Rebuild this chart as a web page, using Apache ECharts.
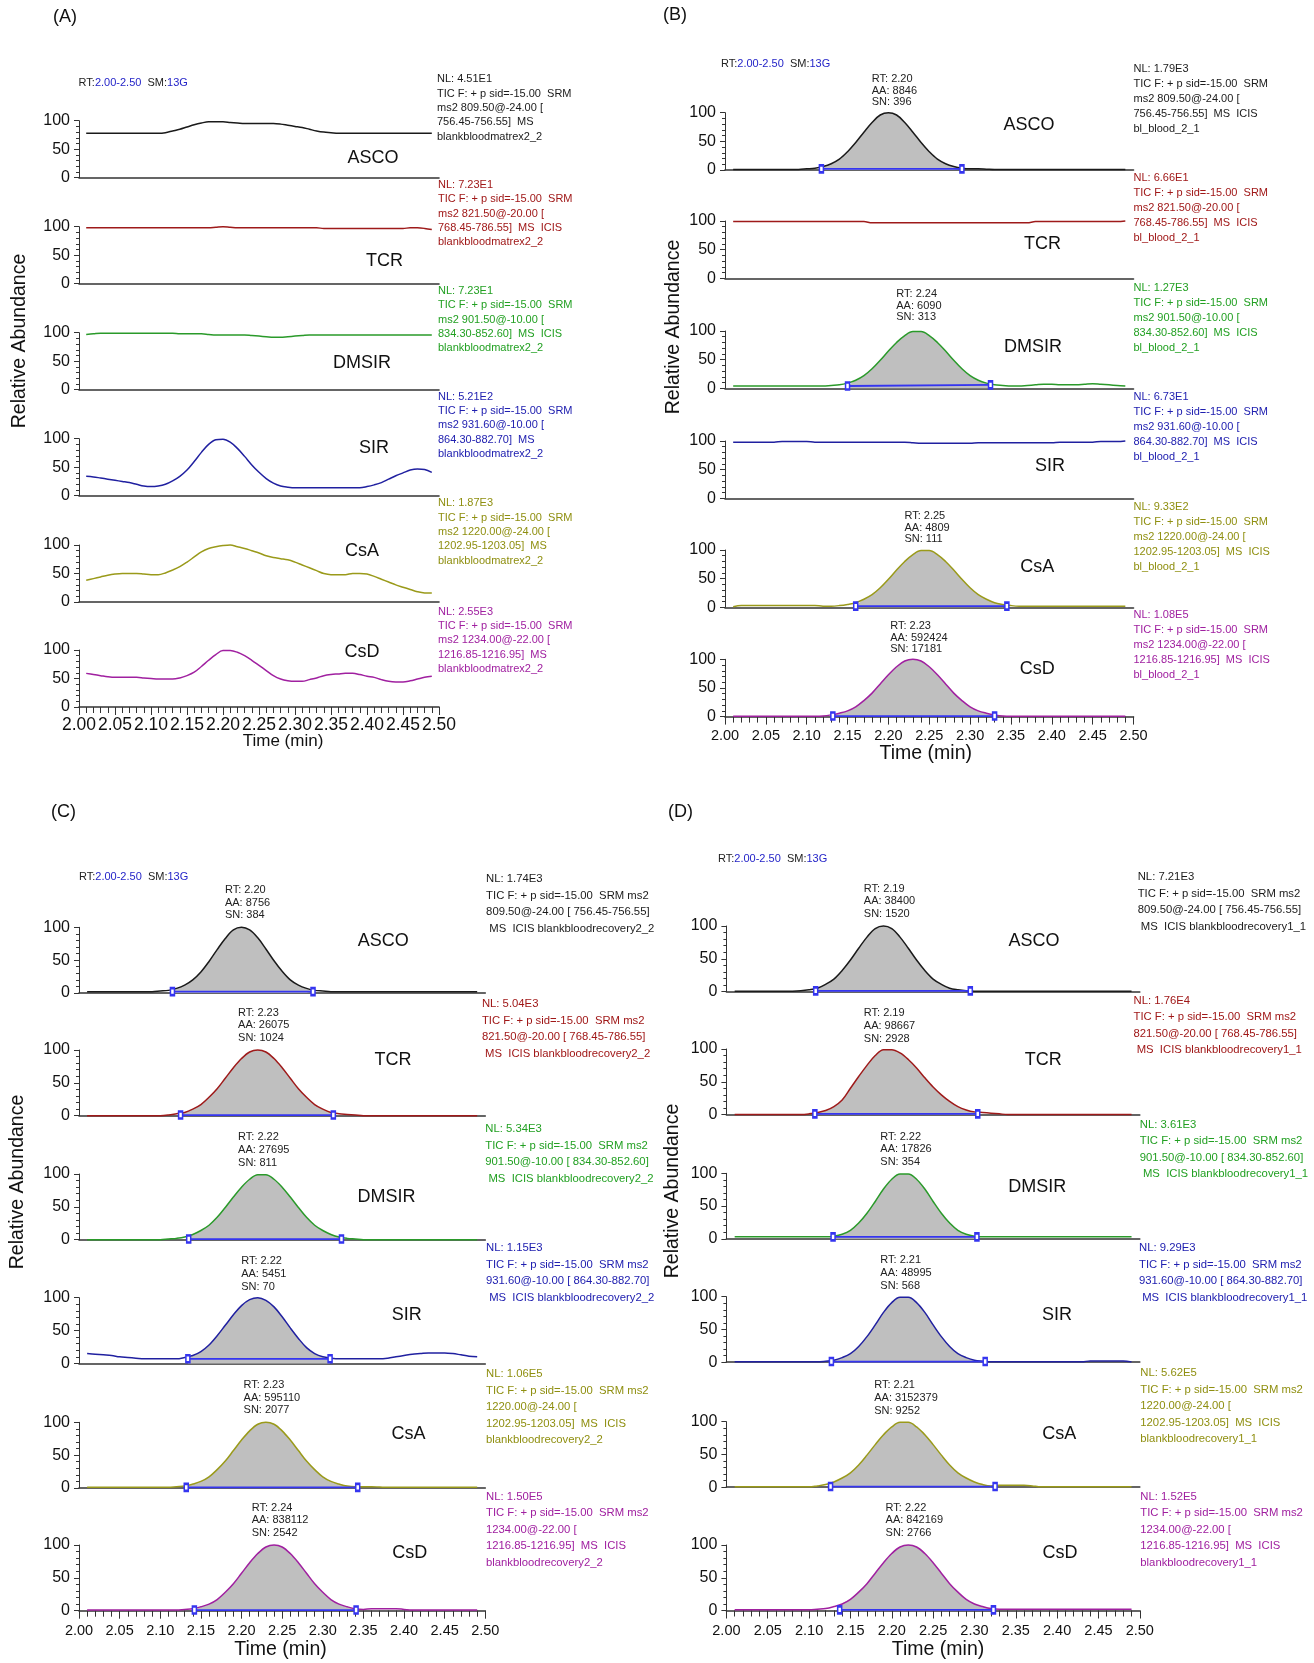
<!DOCTYPE html>
<html><head><meta charset="utf-8">
<script src="https://cdn.jsdelivr.net/npm/echarts@6/dist/echarts.min.js"></script>
<style>html,body{margin:0;padding:0;background:#fff}#c{width:1314px;height:1663px}</style>
</head><body><div id="c"></div>
<script>
// ---------------- DATA ----------------
const COMPOUNDS = ['ASCO','TCR','DMSIR','SIR','CsA','CsD'];
const T = [2.01,2.02,2.03,2.04,2.05,2.06,2.07,2.08,2.09,2.10,
 2.11,2.12,2.13,2.14,2.15,2.16,2.17,2.18,2.19,2.20,
 2.21,2.22,2.23,2.24,2.25,2.26,2.27,2.28,2.29,2.30,
 2.31,2.32,2.33,2.34,2.35,2.36,2.37,2.38,2.39,2.40,
 2.41,2.42,2.43,2.44,2.45,2.46,2.47,2.48,2.49];

// Panel A (blank blood matrix)
const A_ASCO = [78,78,78,78,78,78,78,78,78,78, 78,79,82,85,89,93,96,98,98,98, 97,96,95,95,95,95,95,94,92,90, 88,85,82,80,79,78,78,78,78,78, 78,78,78,78,78,78,78,78,78];
const A_TCR = [98,98,98,98,98,98,98,98,98,98, 98,98,98,98,98,98,98,98,99,100, 99,98,98,98,98,98,98,98,98,98, 98,98,98,97,97,97,97,97,97,97, 97,97,97,97,97,98,98,97,95];
const A_DMSIR = [97,98,99,99,99,99,99,99,99,99, 99,99,99,98,98,98,98,97,96,96, 96,96,96,95,94,93,92,92,93,94, 95,96,96,96,96,96,96,96,96,96, 96,96,96,96,96,96,96,96,96];
const A_SIR = [34,33,31,29,27,25,23,20,17,16, 17,20,26,34,45,60,76,90,98,99, 94,83,69,54,41,30,22,17,15,14, 14,14,14,14,14,14,14,14,14,16, 19,23,29,35,40,45,47,46,41];
const A_CsA = [38,41,44,47,49,50,50,50,49,48, 48,51,56,62,70,79,88,94,97,99, 100,97,94,90,86,81,78,76,74,70, 65,60,55,50,48,48,48,50,50,49, 45,40,35,30,26,22,18,16,16];
const A_CsD = [59,57,55,53,52,52,52,52,51,50, 49,49,49,51,55,61,71,82,92,99, 99,96,90,82,73,64,55,49,46,45, 45,48,51,55,57,58,59,59,57,54, 52,48,45,44,44,46,49,52,54];

// Panel B (bl_blood_2_1)
const B_ASCO = [1,1,1,1,1,1,1,1,1,2, 3,6,11,19,32,48,66,83,96,100, 96,83,66,48,32,19,11,6,3,2, 2,1.5,1,1,1,1,1,1,1,1, 1,1,1,1,1,1,1,1,1];
const B_TCR = [99,99,99,99,99,99,99,99,99,99, 99,99,99,99,99,99,99,97,97,97, 97,97,97,97,97,97,97,97,97,97, 97,97,97,97,97,97,97,99,99,99, 99,99,99,99,99,99,99,99,100];
const B_DMSIR = [4,4,4,4,4,4,4,4,4,4, 4,4,5,6,9,14,22,34,49,65, 80,92,99,99,92,80,65,49,34,22, 14,9,6,5,4,4,5,6,7,7, 6,6,6,7,8,7,6,5,4];
const B_SIR = [98,98,98,98,98,98,99,99,99,99, 98,98,98,98,98,98,98,98,98,98, 98,98,97,96,96,96,96,96,96,96, 97,97,97,97,97,97,97,97,97,97, 98,98,98,98,98,99,99,99,100];
const B_CsA = [1,3,3,3,3,3,3,3,3,3, 3,2,2,3,5,8,14,22,34,49, 65,80,92,99,99,92,80,65,49,34, 22,14,8,5,3,2,2,2,2,2, 2,2,2,2,2,2,2,2,2];
const B_CsD = [0.5,0.5,0.5,0.5,0.5,0.5,0.5,0.5,0.5,0.5, 0.5,1,3,6,10,17,28,41,57,73, 87,97,100,97,87,73,57,41,28,17, 10,6,3,1,0.5,0.5,0.5,0.5,0.5,0.5, 0.5,0.5,0.5,0.5,0.5,0.5,0.5,0.5,0.5];

// Panel C (blankbloodrecovery2_2)
const C_ASCO = [2,2,2,2,2,2,2,2,2,3, 4,7,12,20,32,48,66,83,96,100, 96,84,67,49,33,20,12,7,4,3, 2,2,2,2,2,2,2,2,2,2, 2,2,2,2,2,2,2,2,2];
const C_TCR = [0,0,0,0,0,0,0,0,0,0, 1,3,5,10,17,28,41,57,73,87, 97,100,97,87,73,57,41,28,17,10, 5,3,2,1,0,0,0,0,0,0, 0,0,0,0,0,0,0,0,0];
const C_DMSIR = [0,0,0,0,0,0,0,0,0,0, 1,2,4,8,14,22,34,49,65,80, 92,99,99,92,80,65,49,34,22,14, 8,4,2,1,0,0,0,0,0,0, 0,0,0,0,0,0,0,0,0];
const C_SIR = [15,14,13,12,10,9,8,7,7,7, 7,7,9,12,18,28,42,58,74,88, 97,100,96,86,71,54,38,24,15,10, 8,7,7,7,7,7,7,8,10,12, 14,15,16,16,16,15,13,11,10];
const C_CsA = [1,1,1,1,1,1,1,1,1,1, 1,2,3,6,10,17,28,41,57,73, 87,97,100,97,87,73,57,41,28,17, 10,6,3,2,2,2,1.5,1,1,1, 1,1,1,1,1,1,1,1,1];
const C_CsD = [1,1,1,1,1,1,1,1,1,1, 1,1,2,3,6,10,17,28,41,57, 73,87,97,100,97,87,73,57,41,28, 17,10,6,3,2,3,3,3,3,2, 1,1,1,1,1,1,1,1,1];

// Panel D (blankbloodrecovery1_1)
const D_ASCO = [0.5,0.5,0.5,0.5,0.5,0.5,0.5,0.5,1,2.5, 5,11,19,32,48,66,83,96,100,96, 83,66,48,32,19,11,5,2.5,1,0.5, 0.5,0.5,0.5,0.5,0.5,0.5,0.5,0.5,0.5,0.5, 0.5,0.5,0.5,0.5,0.5,0.5,0.5,0.5,0.5];
const D_TCR = [0,0,0,0,0,0,0,0,0,1, 3,6,12,22,40,58,75,90,99,99, 94,84,71,56,42,30,20,12,7,4, 3,2,1,0,0,0,0,0,0,0, 0,0,0,0,0,0,0,0,0];
const D_DMSIR = [3,3,3,3,3,3,3,3,3,3, 3,3,4,7,13,24,39,57,76,91, 99,99,91,76,57,39,24,13,7,4, 3,3,3,3,3,3,3,3,3,3, 3,3,3,3,3,3,3,3,3];
const D_SIR = [0.5,0.5,0.5,0.5,0.5,0.5,0.5,0.5,0.5,0.5, 0.5,1.5,3,7,13,24,39,57,76,91, 99,99,91,76,57,39,24,13,7,3, 1.5,0.5,0.5,0.5,0.5,0.5,0.5,0.5,0.5,0.5, 0.5,0.5,0.5,2,2,2,2,2,0.5];
const D_CsA = [0.5,0.5,0.5,0.5,0.5,0.5,0.5,0.5,0.5,0.5, 2,4,8,14,22,34,49,65,80,92, 99,99,92,80,65,49,34,22,14,8, 4,2,3,3,3,3,2,0.5,0.5,0.5, 0.5,0.5,0.5,0.5,0.5,0.5,0.5,0.5,0.5];
const D_CsD = [1,1,1,1,1,1,1,1,1,1, 2,3,6,10,17,28,41,57,73,87, 97,100,97,87,73,57,41,28,17,10, 6,3,2,2,2,2,2,2,2,2, 2,2,2,2,2,2,2,2,2];

// Integration windows: [tStart, baseStart, tEnd, baseEnd]
const INT_B = [[2.118,2,2.290,2], null, [2.150,4,2.325,6], null, [2.160,2,2.345,2], [2.132,1,2.330,1]];
const INT_C = [[2.115,2,2.288,2], [2.125,1,2.313,1], [2.135,1,2.323,1], [2.134,7,2.309,7], [2.132,1,2.343,1], [2.142,1,2.341,1]];
const INT_D = [[2.108,1,2.295,1], [2.107,1,2.304,1], [2.129,3,2.303,3], [2.127,1,2.313,1], [2.126,1,2.325,1], [2.137,1,2.323,1]];

// Peak annotations
const ANN_B = [['RT: 2.20','AA: 8846','SN: 396'], null, ['RT: 2.24','AA: 6090','SN: 313'], null, ['RT: 2.25','AA: 4809','SN: 111'], ['RT: 2.23','AA: 592424','SN: 17181']];
const ANN_C = [['RT: 2.20','AA: 8756','SN: 384'], ['RT: 2.23','AA: 26075','SN: 1024'], ['RT: 2.22','AA: 27695','SN: 811'], ['RT: 2.22','AA: 5451','SN: 70'], ['RT: 2.23','AA: 595110','SN: 2077'], ['RT: 2.24','AA: 838112','SN: 2542']];
const ANN_D = [['RT: 2.19','AA: 38400','SN: 1520'], ['RT: 2.19','AA: 98667','SN: 2928'], ['RT: 2.22','AA: 17826','SN: 354'], ['RT: 2.21','AA: 48995','SN: 568'], ['RT: 2.21','AA: 3152379','SN: 9252'], ['RT: 2.22','AA: 842169','SN: 2766']];

// Scan header texts
const TIC = 'TIC F: + p sid=-15.00  SRM';
const NL_A = [
 ['NL: 4.51E1', TIC, 'ms2 809.50@-24.00 [', '756.45-756.55]  MS', 'blankbloodmatrex2_2'],
 ['NL: 7.23E1', TIC, 'ms2 821.50@-20.00 [', '768.45-786.55]  MS  ICIS', 'blankbloodmatrex2_2'],
 ['NL: 7.23E1', TIC, 'ms2 901.50@-10.00 [', '834.30-852.60]  MS  ICIS', 'blankbloodmatrex2_2'],
 ['NL: 5.21E2', TIC, 'ms2 931.60@-10.00 [', '864.30-882.70]  MS', 'blankbloodmatrex2_2'],
 ['NL: 1.87E3', TIC, 'ms2 1220.00@-24.00 [', '1202.95-1203.05]  MS', 'blankbloodmatrex2_2'],
 ['NL: 2.55E3', TIC, 'ms2 1234.00@-22.00 [', '1216.85-1216.95]  MS', 'blankbloodmatrex2_2']];
const NL_B = [
 ['NL: 1.79E3', TIC, 'ms2 809.50@-24.00 [', '756.45-756.55]  MS  ICIS', 'bl_blood_2_1'],
 ['NL: 6.66E1', TIC, 'ms2 821.50@-20.00 [', '768.45-786.55]  MS  ICIS', 'bl_blood_2_1'],
 ['NL: 1.27E3', TIC, 'ms2 901.50@-10.00 [', '834.30-852.60]  MS  ICIS', 'bl_blood_2_1'],
 ['NL: 6.73E1', TIC, 'ms2 931.60@-10.00 [', '864.30-882.70]  MS  ICIS', 'bl_blood_2_1'],
 ['NL: 9.33E2', TIC, 'ms2 1220.00@-24.00 [', '1202.95-1203.05]  MS  ICIS', 'bl_blood_2_1'],
 ['NL: 1.08E5', TIC, 'ms2 1234.00@-22.00 [', '1216.85-1216.95]  MS  ICIS', 'bl_blood_2_1']];
const TIC2 = 'TIC F: + p sid=-15.00  SRM ms2';
const NL_C = [
 ['NL: 1.74E3', TIC2, '809.50@-24.00 [ 756.45-756.55]', ' MS  ICIS blankbloodrecovery2_2'],
 ['NL: 5.04E3', TIC2, '821.50@-20.00 [ 768.45-786.55]', ' MS  ICIS blankbloodrecovery2_2'],
 ['NL: 5.34E3', TIC2, '901.50@-10.00 [ 834.30-852.60]', ' MS  ICIS blankbloodrecovery2_2'],
 ['NL: 1.15E3', TIC2, '931.60@-10.00 [ 864.30-882.70]', ' MS  ICIS blankbloodrecovery2_2'],
 ['NL: 1.06E5', TIC2, '1220.00@-24.00 [', '1202.95-1203.05]  MS  ICIS', 'blankbloodrecovery2_2'],
 ['NL: 1.50E5', TIC2, '1234.00@-22.00 [', '1216.85-1216.95]  MS  ICIS', 'blankbloodrecovery2_2']];
const NL_D = [
 ['NL: 7.21E3', TIC2, '809.50@-24.00 [ 756.45-756.55]', ' MS  ICIS blankbloodrecovery1_1'],
 ['NL: 1.76E4', TIC2, '821.50@-20.00 [ 768.45-786.55]', ' MS  ICIS blankbloodrecovery1_1'],
 ['NL: 3.61E3', TIC2, '901.50@-10.00 [ 834.30-852.60]', ' MS  ICIS blankbloodrecovery1_1'],
 ['NL: 9.29E3', TIC2, '931.60@-10.00 [ 864.30-882.70]', ' MS  ICIS blankbloodrecovery1_1'],
 ['NL: 5.62E5', TIC2, '1220.00@-24.00 [', '1202.95-1203.05]  MS  ICIS', 'blankbloodrecovery1_1'],
 ['NL: 1.52E5', TIC2, '1234.00@-22.00 [', '1216.85-1216.95]  MS  ICIS', 'blankbloodrecovery1_1']];

// ---------------- STYLE / LAYOUT ----------------
const F = "'Liberation Sans', Arial, sans-serif";
const LINE_COLORS = ['#1a1a1a','#9e1a1a','#2a9a2a','#2020a0','#9a9a1a','#a020a0'];
const TEXT_COLORS = ['#1a1a1a','#a01818','#22a022','#2020b0','#8f8f10','#a020a0'];

const panels = [
 {id:'(A)', lab:[53,17], rt:[78.6,83], left:79, width:360, h:57, tops:[120.7,226.7,332.7,438.7,545,650],
  tick:17.5, tickMargin:9, ra:[20,341], time:[283,741,17],
  names:[[373,158],[384.5,261],[362,363],[374,448],[362,551],[362,652]],
  nlx:[437,438,438,438,438,438], nly:[79.3,185,291,396.7,503.3,611.7], lh:14.3, nfs:11,
  traces:[A_ASCO,A_TCR,A_DMSIR,A_SIR,A_CsA,A_CsD], ints:[null,null,null,null,null,null], anns:[null,null,null,null,null,null], nls:NL_A, annLH:11.3, annDist:[4,4,4,4,4,4]},
 {id:'(B)', lab:[663,15], rt:[721,64], left:725, width:408.5, h:57.3, tops:[112.7,221,331,441,550,659.3],
  tick:14.5, tickMargin:12, ra:[673.7,327], time:[925.8,754,19.5],
  names:[[1028.9,125],[1042.4,244],[1033.1,346.7],[1049.9,466],[1037.3,567],[1037.3,669]],
  nlx:[1133.5,1133.5,1133.5,1133.5,1133.5,1133.5], nly:[69.3,178.3,287.7,396.7,506.7,615.3], lh:15, nfs:11,
  traces:[B_ASCO,B_TCR,B_DMSIR,B_SIR,B_CsA,B_CsD], ints:INT_B, anns:ANN_B, nls:NL_B, annLH:11.5, annDist:[4,4,8,4,5,4]},
 {id:'(C)', lab:[51,812], rt:[79,877], left:79, width:406.3, h:65.7, tops:[927.3,1050,1174,1297.7,1422.3,1545],
  tick:14.5, tickMargin:13, ra:[18,1182], time:[280.5,1650,19.5],
  names:[[383.2,941],[392.9,1060],[386.6,1196.7],[406.7,1315],[408.4,1434],[409.7,1552.7]],
  nlx:[486.1,481.9,485.3,486,486,486], nly:[879,1004.3,1129,1248,1374,1496.7], lh:16.5, nfs:11.3,
  traces:[C_ASCO,C_TCR,C_DMSIR,C_SIR,C_CsA,C_CsD], ints:INT_C, anns:ANN_C, nls:NL_C, annLH:12.7, annDist:[5,5,5,4,5,5]},
 {id:'(D)', lab:[668,812], rt:[718,859], left:726.4, width:413.4, h:65.5, tops:[926,1049,1173.3,1296.7,1421.7,1545],
  tick:14.5, tickMargin:13, ra:[672.6,1191], time:[938,1650,19.5],
  names:[[1034,941],[1043.2,1060],[1037.3,1186.7],[1057,1315],[1059.2,1434],[1060,1552.7]],
  nlx:[1137.7,1133.5,1139.8,1139,1140.3,1140.3], nly:[877,1000.7,1124.7,1248,1373.3,1496.7], lh:16.5, nfs:11.3,
  traces:[D_ASCO,D_TCR,D_DMSIR,D_SIR,D_CsA,D_CsD], ints:INT_D, anns:ANN_D, nls:NL_D, annLH:12.7, annDist:[5,4,5,5,5,5]}
];

// ---------------- BUILD ----------------
const grids=[], xAxes=[], yAxes=[], series=[], graphics=[];
const mctx = document.createElement('canvas').getContext('2d');
function textW(s, size) { mctx.font = size + 'px ' + F; return mctx.measureText(s).width; }
function addText(x, y, text, o) {
  graphics.push({type:'text', x:x, y:y, rotation:o.rot||0, z:100, silent:true,
    style:{text:text, fill:o.color||'#111', fontSize:o.size, fontFamily:F, lineHeight:o.lh,
      textAlign:o.align||'left', align:o.align||'left',
      textVerticalAlign:o.va||'middle', verticalAlign:o.va||'middle', rich:o.rich}});
}

panels.forEach(p => {
  addText(p.lab[0], p.lab[1], p.id, {size:18, color:'#111'});
  addText(p.rt[0], p.rt[1], '{a|RT:}{b|2.00-2.50}{a|  SM:}{b|13G}', {size:11,
    rich:{a:{fill:'#222', fontSize:11, fontFamily:F}, b:{fill:'#2424c8', fontSize:11, fontFamily:F}}});
  addText(p.ra[0], p.ra[1], 'Relative Abundance', {size:19.5, align:'center', rot:Math.PI/2, color:'#111'});
  addText(p.time[0], p.time[1], 'Time (min)', {size:p.time[2], align:'center', color:'#111'});

  COMPOUNDS.forEach((cmp, ri) => {
    const g = grids.length;
    const bottom = ri === 5;
    grids.push({left:p.left, top:p.tops[ri], width:p.width, height:p.h});
    xAxes.push({gridIndex:g, type:'value', min:2, max:2.5, interval:0.05,
      axisLine:{show:true, onZero:false, lineStyle:{color:'#333', width:1.6}},
      axisTick:{show:bottom, length:8, lineStyle:{color:'#333', width:1}},
      minorTick:{show:bottom, splitNumber:5, length:6, lineStyle:{color:'#333', width:1}},
      axisLabel:{show:bottom, fontSize:p.tick, fontFamily:F, color:'#111', margin:p.tickMargin,
        showMinLabel:true, showMaxLabel:true, hideOverlap:false,
        formatter:v => v.toFixed(2)},
      splitLine:{show:false}, minorSplitLine:{show:false}});
    yAxes.push({gridIndex:g, type:'value', min:0, max:100, interval:50,
      axisLine:{show:true, lineStyle:{color:'#333', width:1}},
      axisTick:{show:true, length:5, lineStyle:{color:'#333'}},
      minorTick:{show:true, splitNumber:5, length:3, lineStyle:{color:'#333'}},
      axisLabel:{fontSize:16, fontFamily:F, color:'#111', margin:9, showMinLabel:true, showMaxLabel:true},
      splitLine:{show:false}, minorSplitLine:{show:false}});

    const vals = p.traces[ri];
    const pts = T.map((t, i) => [t, vals[i]]);
    const iv = p.ints[ri];
    if (iv) {
      const fill = [[iv[0], iv[1]]].concat(pts.filter(d => d[0] > iv[0] && d[0] < iv[2])).concat([[iv[2], iv[3]]]);
      let im = 0; vals.forEach((v, i) => { if (v > vals[im]) im = i; });
      const ann = p.anns[ri];
      let mp;
      if (ann) {
        const bw = Math.max.apply(null, ann.map(s => textW(s, 11)));
        mp = {symbol:'circle', symbolSize:1, itemStyle:{color:'rgba(0,0,0,0)'}, silent:true,
          label:{show:true, position:'top', distance:p.annDist[ri], formatter:ann.join('\n'), fontSize:11,
            lineHeight:p.annLH, fontFamily:F, color:'#222', align:'left', offset:[-bw/2 + 6, 0]},
          data:[{coord:[T[im], vals[im]]}]};
      }
      series.push({type:'line', xAxisIndex:g, yAxisIndex:g, data:fill, smooth:0.35, showSymbol:false, symbol:'none',
        lineStyle:{width:0}, areaStyle:{color:'#bfbfbf', opacity:1}, z:1, clip:false, silent:true, markPoint:mp});
      series.push({type:'line', xAxisIndex:g, yAxisIndex:g, data:[[iv[0], iv[1]], [iv[2], iv[3]]],
        symbol:'emptyRect', symbolSize:[4,7], showSymbol:true, lineStyle:{color:'#3535f0', width:1.8},
        itemStyle:{color:'#3535f0', borderColor:'#3535f0', borderWidth:1}, z:4, clip:false, silent:true});
    }
    series.push({type:'line', xAxisIndex:g, yAxisIndex:g, data:pts, smooth:0.35, showSymbol:false, symbol:'none',
      lineStyle:{color:LINE_COLORS[ri], width:1.5}, z:3, clip:false, silent:true});

    addText(p.names[ri][0], p.names[ri][1], cmp, {size:18, align:'center', color:'#111'});
    addText(p.nlx[ri], p.nly[ri] - p.lh/2, p.nls[ri].join('\n'), {size:p.nfs, lh:p.lh, va:'top', color:TEXT_COLORS[ri]});
  });
});

const chart = echarts.init(document.getElementById('c'), null, {renderer:'canvas'});
chart.setOption({
  animation:false, backgroundColor:'#fff',
  grid:grids, xAxis:xAxes, yAxis:yAxes, series:series,
  graphic:{elements:graphics}
});
</script></body></html>
